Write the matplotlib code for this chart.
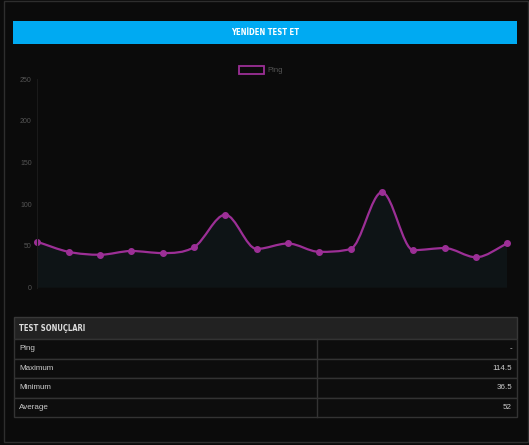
import matplotlib
matplotlib.use("Agg")
import matplotlib.pyplot as plt
from matplotlib.patches import Rectangle, PathPatch
from matplotlib.lines import Line2D
from matplotlib.path import Path
import numpy as np

W, H = 529, 445

# ---- data ----
ping = [55, 43, 39.5, 44, 41.5, 48.5, 87.5, 46.5, 53, 43, 46.5, 114.5, 45, 47.5, 36.5, 53]
y_ticks = [0, 50, 100, 150, 200, 250]
title_text = "YENİDEN TEST ET"
legend_label = "Ping"
table_title = "TEST SONUÇLARI"
row_labels = ["Ping", "Maximum", "Minimum", "Average"]
row_values = ["-", "114.5", "36.5", "52"]

BG = "#0b0b0b"
PURPLE = "#9c2f96"
plt.rcParams["font.family"] = ["Liberation Sans", "DejaVu Sans"]


def fx(x):
    return x / W


def fy(y):
    return 1 - y / H


def rect(fig, x0, y0, x1, y1, **kw):
    r = Rectangle((fx(x0), fy(y1)), fx(x1) - fx(x0), fy(y0) - fy(y1),
                  transform=fig.transFigure, **kw)
    fig.patches.append(r)
    return r


def monotone_verts(xs, ys):
    # monotone cubic (Fritsch-Carlson) bezier segments, like chart.js 'monotone'
    xs = np.asarray(xs, float)
    ys = np.asarray(ys, float)
    n = len(xs)
    delta = np.diff(ys) / np.diff(xs)
    m = np.zeros(n)
    m[0], m[-1] = delta[0], delta[-1]
    for i in range(1, n - 1):
        if delta[i - 1] * delta[i] > 0:
            m[i] = (delta[i - 1] + delta[i]) / 2
    for i in range(n - 1):
        if delta[i] == 0:
            m[i] = m[i + 1] = 0
            continue
        a, b = m[i] / delta[i], m[i + 1] / delta[i]
        mag = a * a + b * b
        if mag > 9:
            tau = 3 / np.sqrt(mag)
            m[i] = a * tau * delta[i]
            m[i + 1] = b * tau * delta[i]
    verts = [(xs[0], ys[0])]
    codes = [Path.MOVETO]
    for i in range(1, n):
        h = (xs[i] - xs[i - 1]) / 3
        verts += [(xs[i - 1] + h, ys[i - 1] + m[i - 1] * h),
                  (xs[i] - h, ys[i] - m[i] * h),
                  (xs[i], ys[i])]
        codes += [Path.CURVE4] * 3
    return verts, codes


fig = plt.figure(figsize=(W / 100, H / 100), dpi=100, facecolor=BG)

# outer panel border
rect(fig, 4, 1, 528, 442, facecolor="none", edgecolor="#2e2e2e", linewidth=1)

# blue button
rect(fig, 13, 21, 517, 44, facecolor="#00aaf2", edgecolor="none")
fig.text(fx(265), fy(32.5), title_text, color="white", fontsize=5.6,
         fontweight="bold", fontstretch="condensed", family="DejaVu Sans",
         ha="center", va="center")

# legend
rect(fig, 239, 66, 264, 74, facecolor="none", edgecolor=PURPLE, linewidth=1.3)
fig.text(fx(267), fy(70.5), legend_label, color="#555555", fontsize=5.5,
         ha="left", va="center")

# chart
ax_l, ax_r, ax_t, ax_b = 37.3, 507.3, 79.2, 287.7
ax = fig.add_axes([fx(ax_l), fy(ax_b), fx(ax_r) - fx(ax_l), fy(ax_t) - fy(ax_b)])
ax.set_facecolor("none")
x = np.arange(len(ping))
ax.set_xlim(0, len(ping) - 1)
ax.set_ylim(0, 250)

verts, codes = monotone_verts(x, ping)
fill_verts = verts + [(x[-1], 0), (x[0], 0), verts[0]]
fill_codes = codes + [Path.LINETO, Path.LINETO, Path.CLOSEPOLY]
ax.add_patch(PathPatch(Path(fill_verts, fill_codes), facecolor="#0e1416",
                       edgecolor="none"))
ax.add_patch(PathPatch(Path(verts, codes), facecolor="none", edgecolor=PURPLE,
                       linewidth=1.6, clip_on=False))
ax.plot(x, ping, "o", color=PURPLE, markersize=4, clip_on=False)

for s in ["top", "right", "bottom"]:
    ax.spines[s].set_visible(False)
ax.spines["left"].set_color("#1a1a1a")
ax.set_xticks([])
ax.set_yticks(y_ticks)
ax.tick_params(axis="y", length=0, pad=4, labelsize=5, labelcolor="#555555")

# results table
tl, tr, tdiv = 14, 517, 316.5
rect(fig, tl, 317, tr, 339, facecolor="#222222", edgecolor="#383838", linewidth=1)
fig.text(fx(19), fy(328.5), table_title, color="#dddddd", fontsize=5.5,
         fontweight="bold", fontstretch="condensed", family="DejaVu Sans",
         ha="left", va="center")
row_h = 19.5
for i, (lab, val) in enumerate(zip(row_labels, row_values)):
    y0 = 339 + i * row_h
    rect(fig, tl, y0, tr, y0 + row_h, facecolor="#0d0d0d", edgecolor="#333333",
         linewidth=1)
    fig.text(fx(19), fy(y0 + row_h / 2), lab, color="#cccccc", fontsize=5.8,
             ha="left", va="center")
    fig.text(fx(512), fy(y0 + row_h / 2), val, color="#cccccc", fontsize=5.8,
             ha="right", va="center")
fig.lines.append(Line2D([fx(tdiv), fx(tdiv)], [fy(339), fy(417)],
                        transform=fig.transFigure, color="#333333", linewidth=1))

fig.savefig("out.png", dpi=100, facecolor=BG)
